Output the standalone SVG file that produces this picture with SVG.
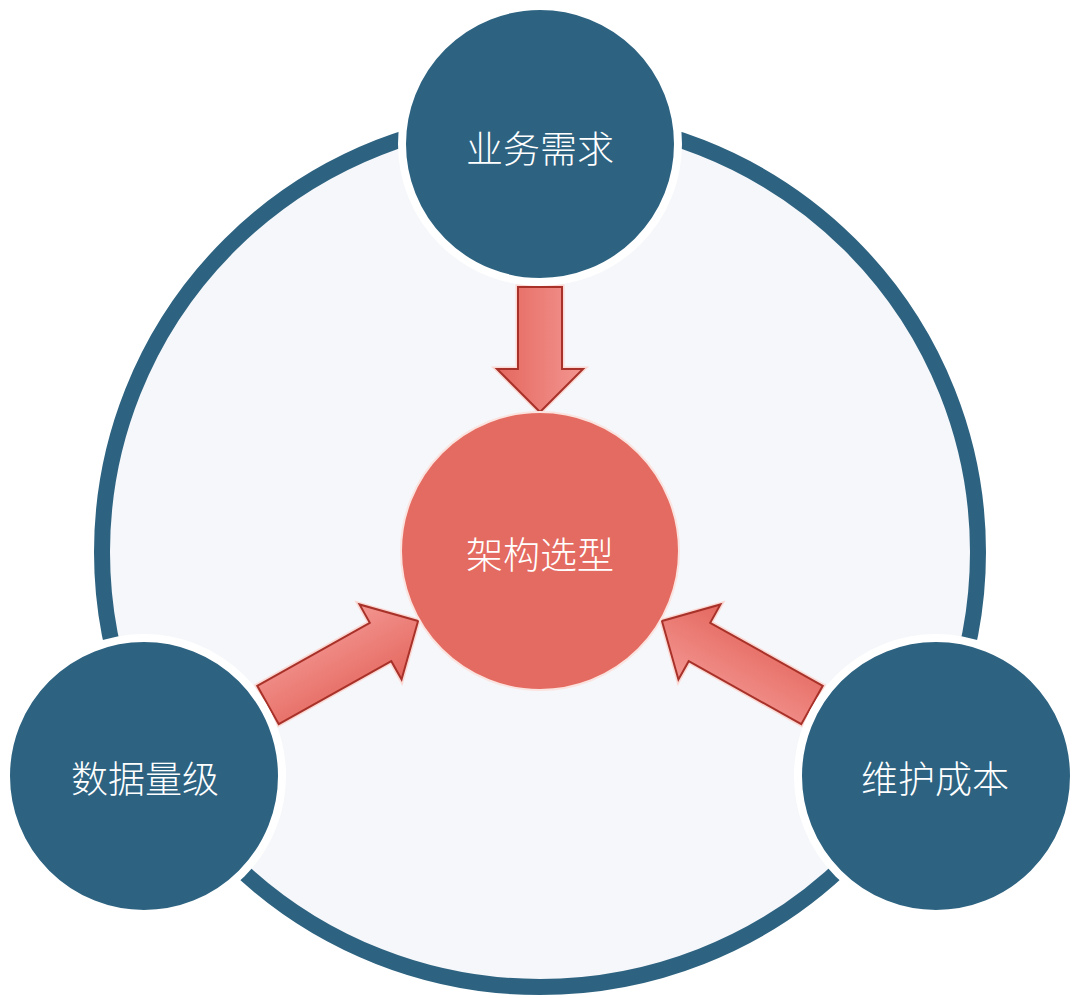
<svg xmlns="http://www.w3.org/2000/svg" width="1080" height="998" viewBox="0 0 1080 998">
  <defs>
    <style>
      .node { fill: #2d6381; stroke: #ffffff; stroke-width: 8; }
      .core { fill: #e46b61; stroke: #fbe3df; stroke-width: 2; }
      .label { font-family: "Noto Sans CJK SC", "Noto Sans", sans-serif; font-size: 37px; font-weight: 300; fill: #ffffff; text-anchor: middle; dominant-baseline: central; }
      .arrow { fill: url(#ag); stroke: #a8322a; stroke-width: 2; stroke-linejoin: miter; }
      .halo { fill: none; stroke: #fbd8d3; stroke-width: 5; stroke-linejoin: miter; }
    </style>
    <linearGradient id="ag" x1="0" y1="0" x2="0" y2="1">
      <stop offset="0" stop-color="#f39590"/>
      <stop offset="1" stop-color="#e4685f"/>
    </linearGradient>
    <polygon id="arrowShort" points="0,-22 82,-22 82,-43 125,0 82,43 82,22 0,22"/>
    <polygon id="arrowLong" points="0,-22 129,-22 129,-43 172,0 129,43 129,22 0,22"/>
  </defs>
  <rect width="1080" height="998" fill="#ffffff"/>
  <g id="ring">
    <ellipse cx="540" cy="552" rx="438" ry="435" fill="#f5f7fa" stroke="#2d6381" stroke-width="16"/>
  </g>
  <g id="connectors">
    <g transform="translate(540,287) rotate(90)">
      <use href="#arrowShort" class="halo"/>
      <use href="#arrowShort" class="arrow"/>
    </g>
    <g transform="translate(268,705) rotate(-29.25)">
      <use href="#arrowLong" class="halo"/>
      <use href="#arrowLong" class="arrow"/>
    </g>
    <g transform="translate(812,705) rotate(-150.75)">
      <use href="#arrowLong" class="halo"/>
      <use href="#arrowLong" class="arrow"/>
    </g>
  </g>
  <g id="node-top">
    <circle class="node" cx="540" cy="144" r="138"/>
    <text class="label" x="540" y="147">业务需求</text>
  </g>
  <g id="node-left">
    <circle class="node" cx="144" cy="776" r="138"/>
    <text class="label" x="145" y="777">数据量级</text>
  </g>
  <g id="node-right">
    <circle class="node" cx="936" cy="776" r="138"/>
    <text class="label" x="935" y="777">维护成本</text>
  </g>
  <g id="node-center">
    <circle class="core" cx="540" cy="551" r="139"/>
    <text class="label" x="540" y="553">架构选型</text>
  </g>
</svg>
